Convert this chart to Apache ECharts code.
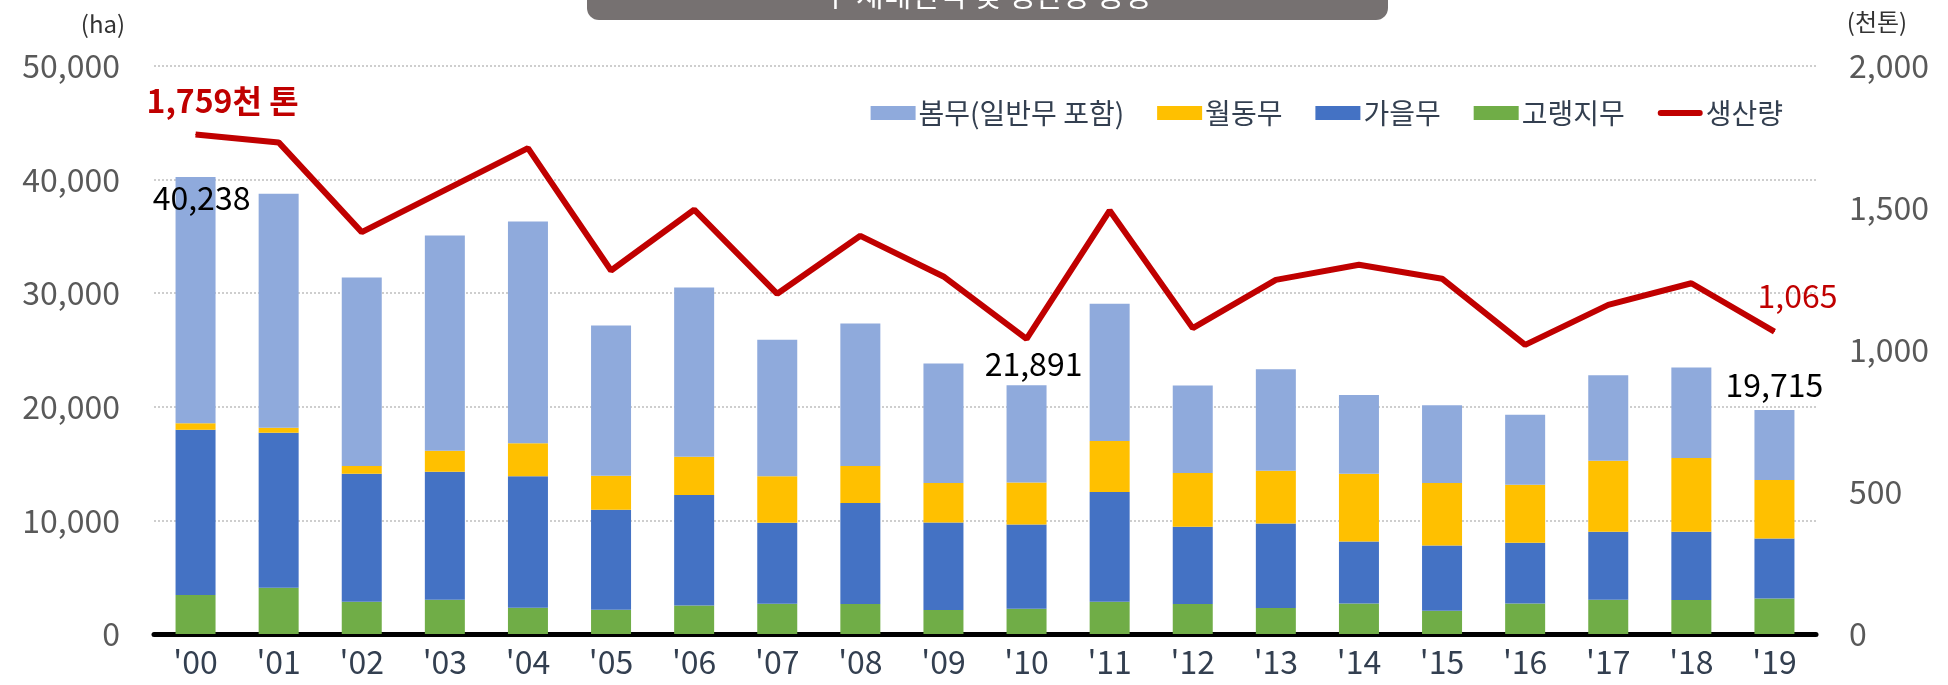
<!DOCTYPE html>
<html>
<head>
<meta charset="utf-8">
<script src="https://cdn.jsdelivr.net/npm/echarts@6/dist/echarts.min.js"></script>
<style>
  html, body { margin: 0; padding: 0; background: #fff; }
  #chart { width: 1948px; height: 685px; }
</style>
</head>
<body>
<div id="chart"></div>
<script>
// 연도
const years = ["'00", "'01", "'02", "'03", "'04", "'05", "'06", "'07", "'08", "'09",
  "'10", "'11", "'12", "'13", "'14", "'15", "'16", "'17", "'18", "'19"]

// 재배면적 (ha)
const highland = [3427, 4070, 2840, 3013, 2308, 2132, 2511, 2661, 2634, 2106,
  2220, 2837, 2634, 2282, 2687, 2044, 2687, 3013, 2987, 3128]       // 고랭지무
const autumn = [14563, 13656, 11277, 11277, 11568, 8810, 9726, 7136, 8898, 7717,
  7427, 9664, 6810, 7453, 5462, 5753, 5348, 5991, 6017, 5286]       // 가을무
const winter = [557, 440, 677, 1850, 2907, 2995, 3374, 4079, 3260, 3471,
  3700, 4493, 4731, 4643, 5965, 5497, 5110, 6255, 6493, 5145]       // 월동무
const spring = [21691, 20589, 16590, 18941, 19532, 13215, 14889, 12016, 12537, 10511,
  8544, 12070, 7691, 8924, 6933, 6837, 6166, 7515, 7955, 6156]      // 봄무(일반무 포함)

// 생산량 (천 톤)
const production = [1759, 1731, 1415, 1563, 1711, 1280, 1494, 1198, 1402, 1259,
  1039, 1491, 1077, 1247, 1300, 1251, 1018, 1159, 1235, 1065]

// 축 눈금
const areaTicks = { min: 0, max: 50000, step: 10000 }
const prodTicks = { min: 0, max: 2000, step: 500 }

const FONT = 'Noto Sans CJK KR'
const comma = v => Number(v).toLocaleString('en-US')

// 합계 라벨 위치 (막대 위)
const totalLabelAt = {
  0: { position: 'insideTop', offset: [6, 0] },
  10: { position: 'top', offset: [7, 0] },
  19: { position: 'top', offset: [0, -4] }
}
const prodLabelAt = {
  0: { formatter: p => comma(p.value) + '천 톤', offset: [27, -12], fontWeight: 'bold' },
  19: { formatter: p => comma(p.value), offset: [23, -14] }
}

function total (i) {
  return highland[i] + autumn[i] + winter[i] + spring[i]
}

function barSeries (name, data, color) {
  return {
    name: name,
    type: 'bar',
    stack: 'area',
    barWidth: 40,
    itemStyle: { color: color },
    data: data.slice()
  }
}

const springSeries = barSeries('봄무(일반무 포함)', spring, '#8FAADC')
springSeries.data = spring.map((v, i) => {
  if (!totalLabelAt[i]) return v
  return {
    value: v,
    label: Object.assign({
      show: true,
      color: '#000',
      fontFamily: FONT,
      fontSize: 32,
      distance: 5,
      formatter: () => comma(total(i))
    }, totalLabelAt[i])
  }
})

const prodSeries = {
  name: '생산량',
  type: 'line',
  yAxisIndex: 1,
  symbol: 'circle',
  symbolSize: 1,
  lineStyle: { color: '#C00000', width: 6 },
  itemStyle: { color: '#C00000' },
  z: 5,
  data: production.map((v, i) => {
    if (!prodLabelAt[i]) return v
    return {
      value: v,
      label: Object.assign({
        show: true,
        position: 'top',
        color: '#C00000',
        fontFamily: FONT,
        fontSize: 32
      }, prodLabelAt[i])
    }
  })
}

const option = {
  backgroundColor: '#fff',
  animation: false,
  textStyle: { fontFamily: FONT },
  grid: { left: 154, right: 132, top: 66, bottom: 51 },
  legend: {
    data: ['봄무(일반무 포함)', '월동무', '가을무', '고랭지무', {
      name: '생산량',
      icon: 'path://M3,0 L42,0 A3,3 0 0 1 42,6 L3,6 A3,3 0 0 1 3,0 Z'
    }],
    icon: 'rect',
    right: 160,
    top: 94,
    itemWidth: 45,
    itemHeight: 14,
    itemGap: 33,
    textStyle: { fontFamily: FONT, fontSize: 28, color: '#333F50', padding: [0, 0, 0, -2] }
  },
  xAxis: {
    type: 'category',
    data: years,
    axisTick: { show: false },
    axisLine: { lineStyle: { color: '#000', width: 5 } },
    axisLabel: { color: '#333F50', fontSize: 32, fontFamily: FONT, margin: 12 }
  },
  yAxis: [{
    type: 'value',
    min: areaTicks.min,
    max: areaTicks.max,
    interval: areaTicks.step,
    axisLine: { show: false },
    axisTick: { show: false },
    axisLabel: { color: '#595959', fontSize: 32, fontFamily: FONT, margin: 34, formatter: comma },
    splitLine: { lineStyle: { color: '#BFBFBF', type: [2, 2], width: 1.5 } }
  }, {
    type: 'value',
    min: prodTicks.min,
    max: prodTicks.max,
    interval: prodTicks.step,
    axisLine: { show: false },
    axisTick: { show: false },
    axisLabel: { color: '#595959', fontSize: 32, fontFamily: FONT, margin: 33, formatter: comma },
    splitLine: { show: false }
  }],
  graphic: [
    {
      type: 'rect',
      shape: { x: 587, y: -40, width: 801, height: 60, r: 12 },
      style: { fill: '#767171' }
    },
    {
      type: 'text',
      x: 987, y: 10,
      style: {
        text: '무 재배면적 및 생산량 동향',
        fill: '#fff', font: '30px "Noto Sans CJK KR"',
        textAlign: 'center', textVerticalAlign: 'bottom'
      }
    },
    {
      type: 'text',
      x: 103, y: 24,
      style: {
        text: '(ha)', fill: '#333', font: '24px "Noto Sans CJK KR"',
        textAlign: 'center', textVerticalAlign: 'middle'
      }
    },
    {
      type: 'text',
      x: 1877, y: 22,
      style: {
        text: '(천톤)', fill: '#333', font: '24px "Noto Sans CJK KR"',
        textAlign: 'center', textVerticalAlign: 'middle'
      }
    }
  ],
  series: [
    barSeries('고랭지무', highland, '#70AD47'),
    barSeries('가을무', autumn, '#4472C4'),
    barSeries('월동무', winter, '#FFC000'),
    springSeries,
    prodSeries
  ]
}

const myChart = echarts.init(document.getElementById('chart'))
myChart.setOption(option)
</script>
</body>
</html>
